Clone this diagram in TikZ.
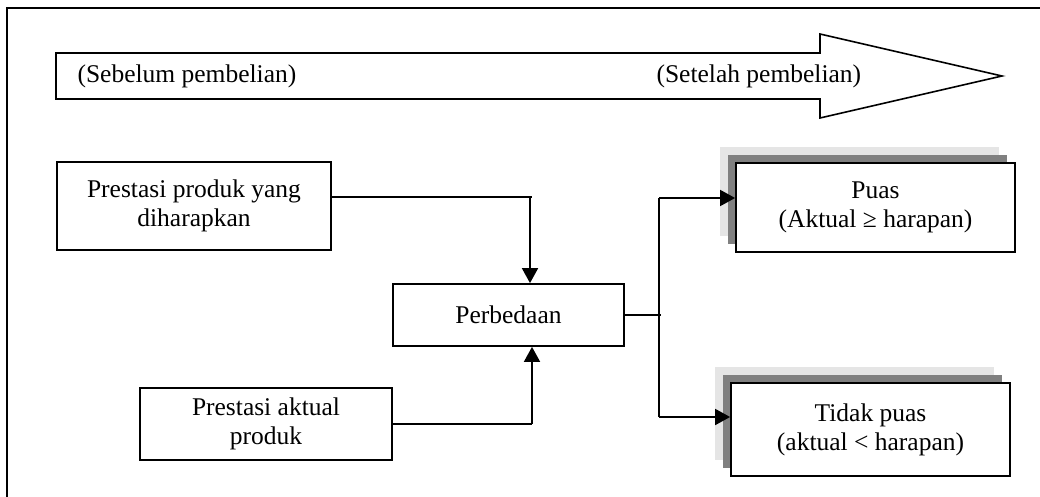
\documentclass[tikz,border=0pt]{standalone}
\usepackage{fontspec}
\setmainfont{Liberation Serif}
\usetikzlibrary{arrows.meta,shadows}
\definecolor{shadelight}{gray}{0.90}
\definecolor{shadedark}{gray}{0.50}
\begin{document}
\begin{tikzpicture}[x=1pt,y=-1pt,
  every node/.style={font=\fontsize{25.5}{29}\selectfont},
  box/.style={draw, line width=1.8pt, align=center, inner sep=0pt, fill=white},
  resultbox/.style={box,
    general shadow={shadow xshift=-16pt, shadow yshift=16pt, fill=shadelight, draw=none},
    general shadow={shadow xshift=-8pt, shadow yshift=8pt, fill=shadedark, draw=none}},
  link/.style={line width=1.8pt},
  arrowlink/.style={link, -{Triangle[length=15pt,width=16pt]}}]
\useasboundingbox (0,0) rectangle (1040,497);
\clip (0,0) rectangle (1040,497);

% outer frame (only its left and top sides fall inside the page)
\draw[line width=2.8pt] (7,520) -- (7,8) -- (1060,8);

% time-line arrow
\draw[line width=1.6pt, fill=white]
  (56,53) -- (820,53) -- (820,34) -- (1002,76) -- (820,118) -- (820,99) -- (56,99) -- cycle;
\node[anchor=west] (before) at (74,76) {(Sebelum pembelian)};
\node[anchor=west] (after) at (653,76) {(Setelah pembelian)};

% boxes
\node[box, minimum width=274pt, minimum height=88pt] (expect) at (194,206)
  {Prestasi produk yang\\diharapkan};
\node[box, minimum width=231pt, minimum height=62pt] (diff) at (508.5,315) {Perbedaan};
\node[box, minimum width=252pt, minimum height=72pt] (actual) at (266,424)
  {Prestasi aktual\\produk};
\node[resultbox, minimum width=279pt, minimum height=89pt] (puas) at (875.5,207.5)
  {Puas\\(Aktual ≥ harapan)};
\node[resultbox, minimum width=279pt, minimum height=93pt] (tidak) at (870.5,429.5)
  {Tidak puas\\(aktual < harapan)};

% connectors
\coordinate (inA) at (530,197);
\coordinate (inB) at (532,424);
\coordinate (split) at (659,315);
\coordinate (upB) at (659,198);
\coordinate (dnB) at (659,417);

\draw[link] (expect.east |- inA) -- ([xshift=2pt]inA);
\draw[arrowlink] (inA) -- (inA |- diff.north);
\draw[link] (actual.east |- inB) -- (inB);
\draw[arrowlink] (inB) -- (inB |- diff.south);
\draw[link] (diff.east) -- ([xshift=2pt]split);
\draw[link] (upB) -- (dnB);
\draw[arrowlink] (upB) -- (upB -| puas.west);
\draw[arrowlink] (dnB) -- (dnB -| tidak.west);
\end{tikzpicture}
\end{document}
